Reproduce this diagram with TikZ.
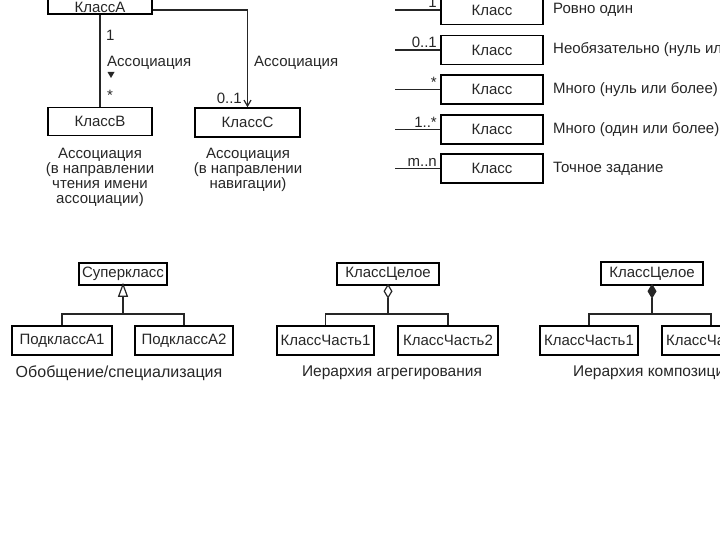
\documentclass[tikz,border=0pt]{standalone}
\usepackage{fontspec}
\setmainfont{Liberation Sans}
\usetikzlibrary{arrows.meta}
\begin{document}
\begin{tikzpicture}[x=1pt,y=-1pt,
  every node/.style={font=\fontsize{15}{15}\selectfont, text=black!85},
  box/.style={draw=black, line width=1.5pt, inner sep=0pt, minimum height=28pt},
  conn/.style={draw=black!85, line width=1.2pt},
  lbl/.style={inner sep=1pt},
  bigcap/.style={font=\fontsize{16}{17}\selectfont}]
\useasboundingbox (0,0) rectangle (720,540);
\clip (0,0) rectangle (720,540);
% --- associations (top left)
\node[box, minimum width=104pt, minimum height=30pt] (A) at (100,-1) {};
\node (At) at (100,7.5) {КлассА};
\node[box, minimum width=104pt] (B) at (100,121.5) {КлассB};
\node[box, minimum width=105pt, minimum height=29pt] (C) at (247.5,122.5) {КлассC};
\draw[conn] (A.south) -- (B.north);
\coordinate (ac) at (247.5,10);
\draw[conn, -{Straight Barb[length=6pt,width=7pt]}] (A.east |- ac) -- (ac) -- (C.north);
\node[lbl, anchor=west] (m1) at (105,35) {1};
\node[lbl, anchor=west] (an1) at (106,63) {Ассоциация};
\fill[black!85] (107.5,72) -- (114.5,72) -- (111,78) -- cycle;
\node[lbl, anchor=west] (ms) at (106,95) {*};
\node[lbl, anchor=west] (an2) at (253,63) {Ассоциация};
\node[lbl, anchor=east] (m01) at (243,98) {0..1};
\node[align=center, anchor=north] (cap1) at (100,145) {Ассоциация\\(в направлении\\чтения имени\\ассоциации)};
\node[align=center, anchor=north] (cap2) at (248,145) {Ассоциация\\(в направлении\\навигации)};
% --- multiplicities (top right)
\foreach \i/\yy/\m/\t in {1/10/1/Ровно один, 2/50/0..1/Необязательно (нуль или один), 3/89.5/*/Много (нуль или более), 4/129.5/1..*/Много (один или более), 5/168.5/m..n/Точное задание}{
  \node[box, minimum width=102pt, minimum height=29pt] (k\i) at (492,\yy) {Класс};
  \coordinate (e\i) at (395,\yy);
  \draw[conn] (e\i) -- (k\i.west);
  \node[lbl, anchor=south east] (ml\i) at (438,\yy-1) {\m};
  \node[lbl, anchor=west] (d\i) at (552,\yy) {\t};
}
% --- generalization
\node[box, minimum width=88pt, minimum height=22pt] (S) at (123,274) {Суперкласс};
\node[box, minimum width=100pt, minimum height=29pt] (A1) at (62,340.5) {ПодклассА1};
\node[box, minimum width=98pt, minimum height=29pt] (A2) at (184,340.5) {ПодклассА2};
\coordinate (gj) at (123,314);
\draw[conn] (A1.north) |- (gj) -| (A2.north);
\draw[conn, -{Triangle[open,length=14pt,width=10pt]}] (gj) -- ([yshift=3pt]S.south);
\node[bigcap] (g) at (119,373) {Обобщение/специализация};
% --- aggregation
\node[box, minimum width=102pt, minimum height=22pt] (W1) at (388,274) {КлассЦелое};
\node[box, minimum width=97pt, minimum height=29pt] (P1) at (325.5,340.5) {КлассЧасть1};
\node[box, minimum width=100pt, minimum height=29pt] (P2) at (448,340.5) {КлассЧасть2};
\coordinate (aj) at (388,314);
\draw[conn] (P1.north) |- (aj) -| (P2.north);
\draw[conn, -{Diamond[open,length=15pt,width=9pt]}] (aj) -- ([yshift=2pt]W1.south);
\node[font=\fontsize{15.5}{17}\selectfont] (ag) at (392,373) {Иерархия агрегирования};
% --- composition
\node[box, minimum width=102pt, minimum height=23pt] (W2) at (652,273.5) {КлассЦелое};
\node[box, minimum width=98pt, minimum height=29pt] (Q1) at (589,340.5) {КлассЧасть1};
\node[box, minimum width=98pt, minimum height=29pt] (Q2) at (711,340.5) {КлассЧасть2};
\coordinate (cj) at (652,314);
\draw[conn] (Q1.north) |- (cj) -| (Q2.north);
\draw[conn, -{Diamond[length=15pt,width=9pt]}] (cj) -- ([yshift=2pt]W2.south);
\node[font=\fontsize{15.5}{17}\selectfont, anchor=west, inner sep=0pt] (cg) at (573,373) {Иерархия композиции};
\end{tikzpicture}
\end{document}
